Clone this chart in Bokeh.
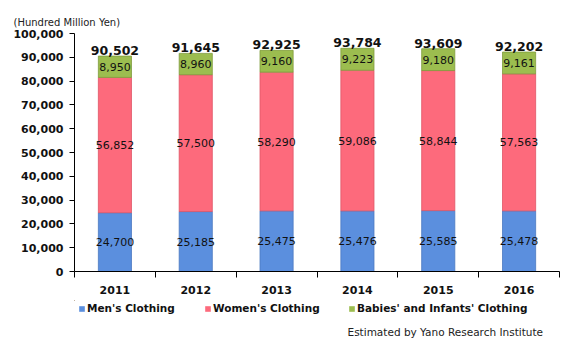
from bokeh.plotting import figure
from bokeh.layouts import column
from bokeh.models import (ColumnDataSource, FixedTicker, NumeralTickFormatter, Range1d,
                          Legend, LegendItem, Title, Label)
from bokeh.core.properties import value
from bokeh.embed import file_html
from bokeh.resources import INLINE

years = ["2011", "2012", "2013", "2014", "2015", "2016"]
mens = [24700, 25185, 25475, 25476, 25585, 25478]
womens = [56852, 57500, 58290, 59086, 58844, 57563]
babies = [8950, 8960, 9160, 9223, 9180, 9161]
totals = [90502, 91645, 92925, 93784, 93609, 92202]
series_names = ["Men's Clothing", "Women's Clothing", "Babies' and Infants' Clothing"]
y_ticks = list(range(0, 100001, 10000))

FONT = "DejaVu Sans"
colors = ["#5b8fde", "#fd6a7c", "#9cbd4f"]
edges = ["#4a78c0", "#e05566", "#7f9c3c"]

xs = [i + 1 for i in range(len(years))]
src = ColumnDataSource(dict(
    x=xs, mens=mens, womens=womens, babies=babies, totals=totals,
    mens_lbl=[f"{v:,}" for v in mens],
    womens_lbl=[f"{v:,}" for v in womens],
    babies_lbl=[f"{v:,}" for v in babies],
    totals_lbl=[f"{v:,}" for v in totals],
    mens_mid=[m / 2 for m in mens],
    womens_mid=[m + w / 2 for m, w in zip(mens, womens)],
    babies_mid=[m + w + b / 2 for m, w, b in zip(mens, womens, babies)],
))

p = figure(width=576, height=300, output_backend="svg", toolbar_location=None,
           x_range=Range1d(0.5, len(years) + 0.5), y_range=Range1d(0, 100000),
           min_border_left=74, min_border_right=17, min_border_top=33, min_border_bottom=29)
p.outline_line_color = None
p.xgrid.visible = False
p.ygrid.visible = False

renderers = p.vbar_stack(["mens", "womens", "babies"], x="x", width=0.41, source=src,
                         color=colors, line_color=edges, line_width=0.8)

common = dict(source=src, text_align="center", text_baseline="middle",
              text_font=value(FONT), text_font_size="11px", text_color="#111111")
p.text(x="x", y="mens_mid", text="mens_lbl", **common)
p.text(x="x", y="womens_mid", text="womens_lbl", **common)
p.text(x="x", y="babies_mid", text="babies_lbl", **common)
p.text(x="x", y="totals", text="totals_lbl", source=src, text_align="center",
       text_baseline="bottom", y_offset=-1, text_font=value(FONT), text_font_size="12.5px",
       text_color="#111111", text_font_style="bold")

# axes
p.xaxis.ticker = FixedTicker(ticks=xs, minor_ticks=[x - 0.5 for x in xs] + [xs[-1] + 0.5])
p.xaxis.major_label_overrides = {x: y for x, y in zip(xs, years)}
p.xaxis.major_tick_line_color = None
p.xaxis.minor_tick_line_color = "black"
p.xaxis.minor_tick_in = 0
p.xaxis.minor_tick_out = 6
p.xaxis.axis_line_color = "black"
p.xaxis.major_label_text_font = FONT
p.xaxis.major_label_text_font_size = "11px"
p.xaxis.major_label_text_font_style = "bold"
p.xaxis.major_label_text_color = "#111111"
p.xaxis.major_label_standoff = 8

p.yaxis.ticker = FixedTicker(ticks=y_ticks)
p.yaxis.formatter = NumeralTickFormatter(format="0,0")
p.yaxis.minor_tick_line_color = None
p.yaxis.major_tick_in = 0
p.yaxis.major_tick_out = 5
p.yaxis.axis_line_color = "black"
p.yaxis.major_label_text_font = FONT
p.yaxis.major_label_text_font_size = "11px"
p.yaxis.major_label_text_font_style = "bold"
p.yaxis.major_label_text_color = "#111111"
p.yaxis.major_label_standoff = 6

p.add_layout(Title(text="(Hundred Million Yen)", align="left", offset=-61,
                   text_font=FONT, text_font_size="10px", text_font_style="normal",
                   text_color="#222222", standoff=12), "above")

# legend + footer strip (its frame is aligned with the main frame: page x 74..559)
q = figure(width=576, height=56, output_backend="svg", toolbar_location=None,
           x_range=Range1d(74, 559), y_range=Range1d(0, 56),
           x_axis_type=None, y_axis_type=None, min_border=0)
q.outline_line_color = None
q.xgrid.visible = False
q.ygrid.visible = False
# legend swatches: same series as zero-height bars (nothing visible is drawn)
swatches = [q.vbar(x="x", bottom=col, top=col, width=0.41, source=src,
                   fill_color=c, line_color=None)
            for col, c in zip(["mens", "womens", "babies"], colors)]
legend_x = [4, 130, 274]
for n, r, lx in zip(series_names, swatches, legend_x):
    lg = Legend(items=[LegendItem(label=n, renderers=[r])], location=(lx, 42),
                glyph_width=7, glyph_height=7, label_height=12, padding=0, margin=0,
                label_standoff=2, border_line_color=None, background_fill_alpha=0,
                label_text_font=FONT, label_text_font_size="10.5px",
                label_text_font_style="bold", label_text_color="#111111")
    q.add_layout(lg, "center")
q.add_layout(Label(x=347, y=25, text="Estimated by Yano Research Institute",
                   text_font=FONT, text_font_size="10.5px", text_baseline="middle",
                   text_color="#222222"))

layout = column(p, q, spacing=0)
open("out.html", "w").write(file_html(layout, INLINE))
